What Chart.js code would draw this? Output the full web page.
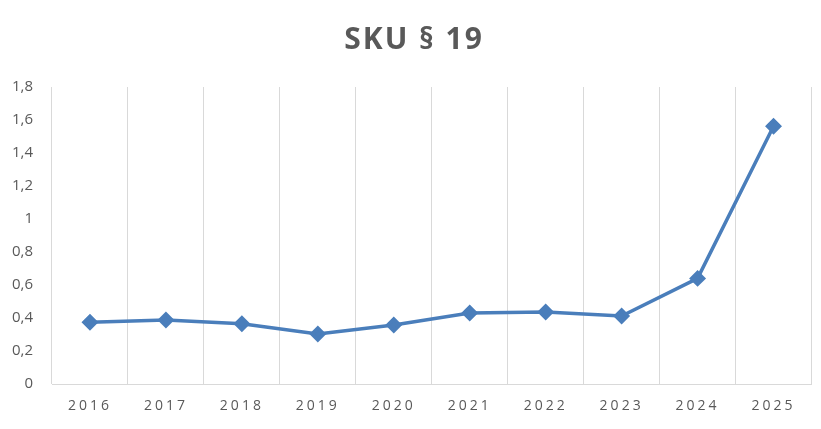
<!DOCTYPE html>
<html>
<head>
<meta charset="utf-8">
<script src="https://cdn.jsdelivr.net/npm/chart.js@4"></script>
<style>
  html, body { margin: 0; padding: 0; background: #fff; }
  #wrap { width: 821px; height: 429px; }
</style>
</head>
<body>
<div id="wrap"><canvas id="chart"></canvas></div>
<script>
// dados
const anos = ['2016', '2017', '2018', '2019', '2020', '2021', '2022', '2023', '2024', '2025'];
const valores = [0.374, 0.388, 0.365, 0.303, 0.358, 0.43, 0.436, 0.412, 0.64, 1.562];
const yMin = 0;
const yMax = 1.8;
const yPasso = 0.2;

const cinza = '#595959';
const grade = '#d9d9d9';
const azul = '#4a7ebb';

// espaçamento das letras (eixo X e título)
function espacar(obj, metodo, valor, dx) {
    if (!obj || obj['_esp_' + metodo]) return;
    const orig = obj[metodo];
    obj[metodo] = function(...args) {
        const ctx = this.ctx;
        ctx.save();
        ctx.letterSpacing = valor;
        ctx.translate(dx || 0, 0);
        orig.apply(this, args);
        ctx.restore();
    };
    obj['_esp_' + metodo] = true;
}

const espacoLetras = {
    id: 'espacoLetras',
    beforeDraw(chart) {
        espacar(chart.scales.x, 'drawLabels', '3px', 0);
        espacar(chart.titleBlock, 'draw', '2px', 8);
    }
};

new Chart(document.getElementById('chart'), {
    type: 'line',
    data: {
        labels: anos,
        datasets: [{
            data: valores,
            borderColor: azul,
            backgroundColor: azul,
            borderWidth: 3.5,
            pointStyle: 'rectRot',
            pointRadius: 6,
            pointHoverRadius: 6,
            tension: 0
        }]
    },
    options: {
        responsive: true,
        maintainAspectRatio: false,
        animation: false,
        layout: { padding: { left: 0, right: 9, top: 0, bottom: 0 } },
        plugins: {
            legend: { display: false },
            tooltip: { enabled: false },
            title: {
                display: true,
                text: 'SKU § 19',
                color: cinza,
                font: { family: 'Open Sans', size: 30, weight: 'bold', lineHeight: 1.2 },
                padding: { top: 22, bottom: 29 }
            }
        },
        scales: {
            x: {
                offset: true,
                grid: { display: true, color: grade, lineWidth: 1, offset: true, drawTicks: false },
                border: { display: true, color: grade },
                ticks: {
                    color: cinza,
                    font: { family: 'Open Sans', size: 14 },
                    padding: 14,
                    maxRotation: 0
                },
                afterFit(scale) { scale.height = 45; }
            },
            y: {
                min: yMin,
                max: yMax,
                grid: { display: false },
                border: { display: false },
                ticks: {
                    stepSize: yPasso,
                    color: cinza,
                    font: { family: 'Open Sans', size: 15 },
                    padding: 11,
                    callback: v => String(Math.round(v * 10) / 10).replace('.', ',')
                },
                afterFit(scale) { scale.width = 52; }
            }
        }
    },
    plugins: [espacoLetras]
});
</script>
</body>
</html>
